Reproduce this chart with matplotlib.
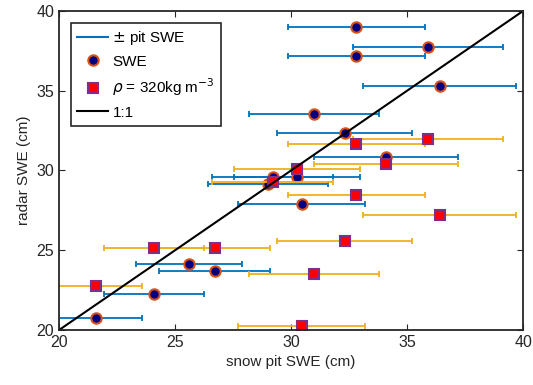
import matplotlib.pyplot as plt
from matplotlib.lines import Line2D
import numpy as np

plt.rcParams['font.family'] = ['Liberation Sans', 'DejaVu Sans']

# snow pit SWE vs radar SWE (circles)
pit_swe = [32.8, 35.9, 32.8, 36.4, 31.0, 32.3, 34.1, 30.25, 29.2, 29.0, 30.45, 25.6, 26.7, 24.1, 21.6]
radar_swe = [39.0, 37.75, 37.15, 35.3, 33.55, 32.35, 30.85, 29.6, 29.6, 29.15, 27.9, 24.15, 23.7, 22.25, 20.75]
pit_err = [2.95, 3.25, 2.95, 3.3, 2.8, 2.9, 3.1, 2.7, 2.6, 2.6, 2.75, 2.3, 2.4, 2.15, 1.95]

# radar SWE with rho = 320 kg m^-3 (squares)
pit_swe_rho = [35.9, 32.8, 34.1, 30.25, 29.2, 32.8, 36.4, 32.3, 24.1, 26.7, 31.0, 21.6, 30.45]
radar_swe_rho = [32.0, 31.65, 30.4, 30.1, 29.25, 28.45, 27.2, 25.6, 25.15, 25.15, 23.5, 22.75, 20.25]
pit_err_rho = [3.25, 2.95, 3.1, 2.7, 2.6, 2.95, 3.3, 2.9, 2.15, 2.4, 2.8, 1.95, 2.75]

fig = plt.figure(figsize=(5.33, 3.85), dpi=100)
ax = fig.add_axes([0.111, 0.143, 0.8705, 0.8286])

ax.errorbar(pit_swe, radar_swe, xerr=pit_err, fmt='none', ecolor='#0072BD',
            elinewidth=1.3, capsize=2, capthick=1.3)
circ, = ax.plot(pit_swe, radar_swe, 'o', ms=7.5, mfc='#000080', mec='#D95319', mew=1.5,
                ls='none')
ax.errorbar(pit_swe_rho, radar_swe_rho, xerr=pit_err_rho, fmt='none', ecolor='#EDB120',
            elinewidth=1.3, capsize=2, capthick=1.3)
sq, = ax.plot(pit_swe_rho, radar_swe_rho, 's', ms=6.5, mfc='#FF0000', mec='#7E2F8E', mew=1.5,
              ls='none')
one, = ax.plot([20, 40], [20, 40], color='black', lw=1.5)

ax.set_xlim(20, 40)
ax.set_ylim(20, 40)
ax.set_xticks(np.arange(20, 41, 5))
ax.set_yticks(np.arange(20, 41, 5))
ax.tick_params(direction='in', top=True, right=True, labelsize=11.5, colors='#262626', length=4)
for s in ax.spines.values():
    s.set_linewidth(1.3)
    s.set_color('#262626')
ax.set_xlabel('snow pit SWE (cm)', fontsize=11, color='#262626')
ax.set_ylabel('radar SWE (cm)', fontsize=11, color='#262626')

err_handle = Line2D([], [], color='#0072BD', lw=1.5)
leg = ax.legend([err_handle, circ, sq, one],
                [r'$\pm$ pit SWE', 'SWE', r'$\rho$ = 320kg m$^{-3}$', '1:1'],
                loc='upper left', fontsize=11, fancybox=False, edgecolor='#262626',
                framealpha=1, handlelength=2.0, handletextpad=0.3, borderpad=0.4,
                labelspacing=0.5, bbox_to_anchor=(0.026, 0.962), borderaxespad=0)
leg.get_frame().set_linewidth(1.2)

plt.savefig('out.png', dpi=100)
